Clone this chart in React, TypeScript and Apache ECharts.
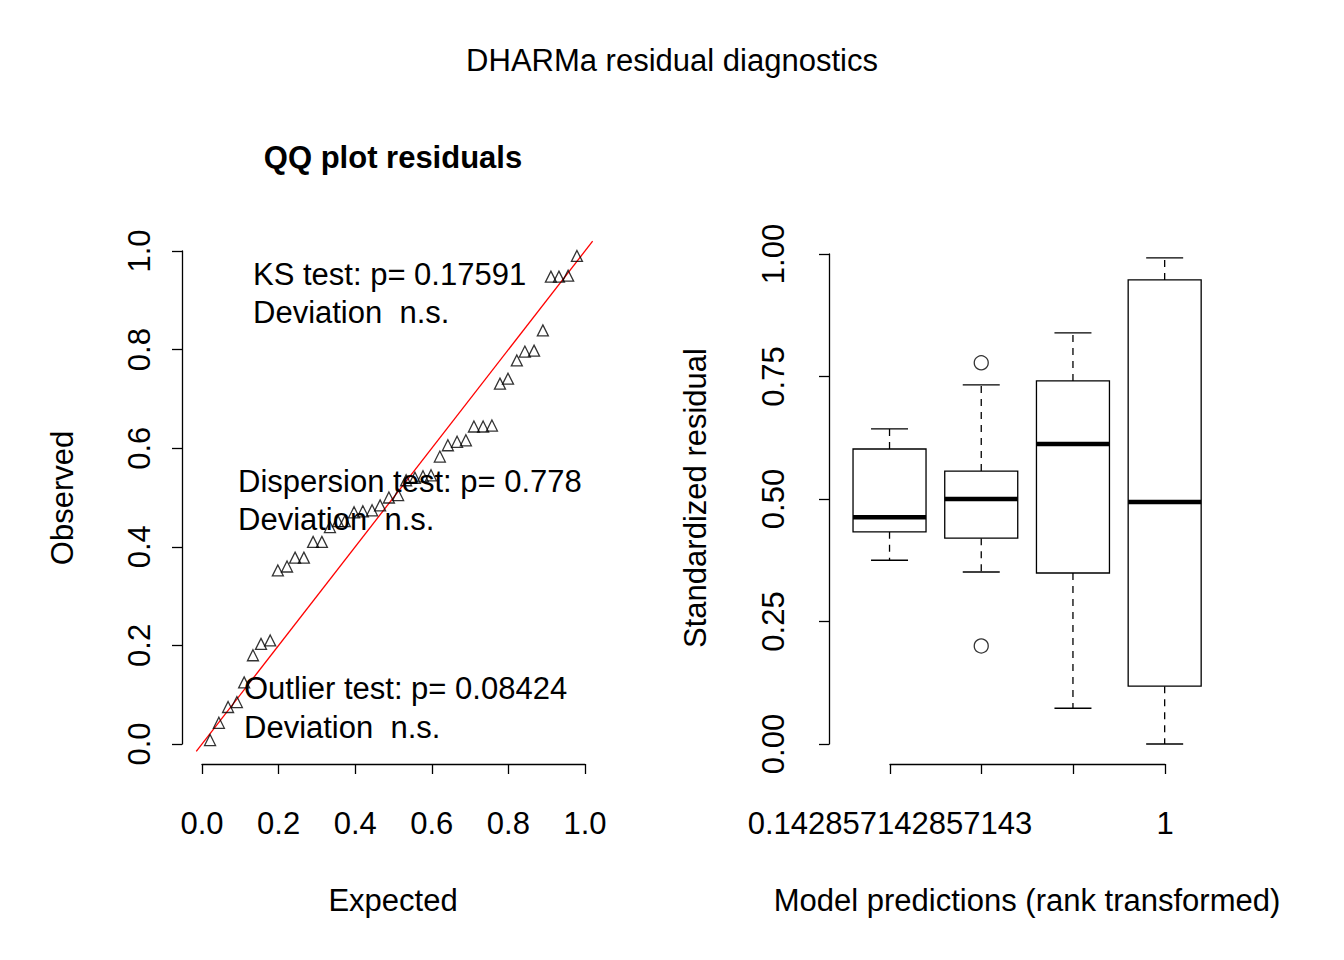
import React, { useEffect, useRef } from "react";
import * as echarts from "echarts";

const qqExpected = [0.021, 0.044, 0.068, 0.091, 0.11, 0.133, 0.154, 0.178, 0.198, 0.222, 0.243, 0.266, 0.29, 0.313, 0.334, 0.355, 0.373, 0.397, 0.42, 0.444, 0.465, 0.488, 0.512, 0.533, 0.556, 0.577, 0.598, 0.621, 0.642, 0.666, 0.689, 0.71, 0.734, 0.757, 0.778, 0.799, 0.822, 0.843, 0.867, 0.89, 0.911, 0.932, 0.956, 0.979];
const qqObserved = [0.008, 0.043, 0.075, 0.085, 0.125, 0.18, 0.203, 0.21, 0.352, 0.36, 0.378, 0.378, 0.41, 0.41, 0.44, 0.452, 0.452, 0.47, 0.472, 0.474, 0.484, 0.5, 0.505, 0.535, 0.54, 0.543, 0.545, 0.583, 0.606, 0.613, 0.616, 0.644, 0.644, 0.646, 0.731, 0.741, 0.778, 0.796, 0.798, 0.839, 0.948, 0.948, 0.95, 0.99];

const boxPositions = [1, 2, 3, 4];
const boxStats = [
  [0.375, 0.433, 0.463, 0.602, 0.643],
  [0.351, 0.42, 0.5, 0.557, 0.733],
  [0.073, 0.349, 0.612, 0.741, 0.839],
  [0.0, 0.118, 0.494, 0.947, 0.992],
];
const outliers = [[2, 0.778], [2, 0.2]];
const boxTickLabels = ["0.142857142857143", "", "", "1"];
const qqTicks = ["0.0", "0.2", "0.4", "0.6", "0.8", "1.0"];

const FONT = "Liberation Sans, Arial, sans-serif";
const FS = 31;

export default function App() {
  const ref = useRef<HTMLDivElement>(null);
  useEffect(() => {
    const chart = echarts.init(ref.current!, null, { renderer: "svg" });
    const lbl = { fontFamily: FONT, fontSize: FS, color: "#000" };
    const hiddenAxis = (gi: number, min: number, max: number) => ({
      gridIndex: gi, type: "value", min, max, show: false,
    });
    const axLine = { lineStyle: { color: "#000", width: 1.3 } };
    const tick = { show: true, length: 10, lineStyle: { color: "#000", width: 1.3 } };
    const option: any = {
      animation: false,
      backgroundColor: "#fff",
      grid: [
        { left: 186.7, top: 231.3, width: 413.6, height: 532.4 },
        { left: 202, top: 763, width: 383, height: 1 },
        { left: 182, top: 251, width: 1, height: 493 },
        { left: 829, top: 234.4, width: 396.2, height: 529.2 },
        { left: 890, top: 763, width: 275, height: 1 },
        { left: 829, top: 254, width: 1, height: 490 },
      ],
      xAxis: [
        hiddenAxis(0, -0.04, 1.04),
        {
          gridIndex: 1, type: "value", min: 0, max: 1, interval: 0.2, position: "bottom",
          axisLine: axLine, axisTick: tick, splitLine: { show: false },
          axisLabel: { ...lbl, margin: 44, formatter: (v: number) => qqTicks[Math.round(v * 5)] },
        },
        hiddenAxis(2, 0, 1),
        hiddenAxis(3, 0.34, 4.66),
        {
          gridIndex: 4, type: "value", min: 1, max: 4, interval: 1, position: "bottom",
          axisLine: axLine, axisTick: tick, splitLine: { show: false },
          axisLabel: { ...lbl, margin: 44, formatter: (v: number) => boxTickLabels[Math.round(v) - 1] },
        },
        hiddenAxis(5, 0, 1),
      ],
      yAxis: [
        hiddenAxis(0, -0.04, 1.04),
        hiddenAxis(1, 0, 1),
        {
          gridIndex: 2, type: "value", min: 0, max: 1, interval: 0.2,
          axisLine: { show: true, ...axLine }, axisTick: tick, splitLine: { show: false },
          axisLabel: { ...lbl, rotate: 90, margin: 27, formatter: (v: number) => qqTicks[Math.round(v * 5)] },
        },
        hiddenAxis(3, -0.04, 1.04),
        hiddenAxis(4, 0, 1),
        {
          gridIndex: 5, type: "value", min: 0, max: 1, interval: 0.25,
          axisLine: { show: true, ...axLine }, axisTick: tick, splitLine: { show: false },
          axisLabel: { ...lbl, rotate: 90, margin: 40, formatter: (v: number) => v.toFixed(2) },
        },
      ],
      series: [
        {
          type: "line", xAxisIndex: 0, yAxisIndex: 0, clip: false, symbol: "none",
          data: [[-0.015, -0.015], [1.02, 1.02]],
          lineStyle: { color: "#ff0000", width: 1.3 }, z: 3,
        },
        {
          type: "scatter", xAxisIndex: 0, yAxisIndex: 0, symbol: "triangle", symbolSize: 11,
          data: qqExpected.map((x, i) => [x, qqObserved[i]]),
          itemStyle: { color: "rgba(0,0,0,0)", borderColor: "#000", borderWidth: 1.3 }, z: 4,
        },
        {
          type: "custom", xAxisIndex: 3, yAxisIndex: 3,
          data: boxPositions.map((p, i) => [p, ...boxStats[i]]),
          renderItem: (params: any, api: any) => {
            const x = api.value(0);
            const pt = (v: number) => api.coord([x, v]);
            const [cx, yLow] = pt(api.value(1));
            const yQ1 = pt(api.value(2))[1];
            const yMed = pt(api.value(3))[1];
            const yQ3 = pt(api.value(4))[1];
            const yHigh = pt(api.value(5))[1];
            const hw = 36.5, cw = 18.5;
            const ls = { stroke: "#000", lineWidth: 1.3, fill: "none" };
            const dash = { ...ls, lineDash: [7, 6] };
            return {
              type: "group",
              children: [
                { type: "line", shape: { x1: cx, y1: yQ3, x2: cx, y2: yHigh }, style: dash },
                { type: "line", shape: { x1: cx, y1: yQ1, x2: cx, y2: yLow }, style: dash },
                { type: "line", shape: { x1: cx - cw, y1: yHigh, x2: cx + cw, y2: yHigh }, style: ls },
                { type: "line", shape: { x1: cx - cw, y1: yLow, x2: cx + cw, y2: yLow }, style: ls },
                { type: "rect", shape: { x: cx - hw, y: yQ3, width: 2 * hw, height: yQ1 - yQ3 }, style: { ...ls, fill: "#fff" } },
                { type: "line", shape: { x1: cx - hw, y1: yMed, x2: cx + hw, y2: yMed }, style: { stroke: "#000", lineWidth: 4.5 } },
              ],
            };
          },
        },
        {
          type: "scatter", xAxisIndex: 3, yAxisIndex: 3, symbol: "circle", symbolSize: 14,
          data: outliers,
          itemStyle: { color: "rgba(0,0,0,0)", borderColor: "#000", borderWidth: 1.3 },
        },
      ],
      graphic: [
        { type: "text", x: 672, y: 60, style: { text: "DHARMa residual diagnostics", font: `${FS}px ${FONT}`, fill: "#000", align: "center", verticalAlign: "middle" } },
        { type: "text", x: 393, y: 157, style: { text: "QQ plot residuals", font: `bold ${FS}px ${FONT}`, fill: "#000", align: "center", verticalAlign: "middle" } },
        { type: "text", x: 393, y: 900, style: { text: "Expected", font: `${FS}px ${FONT}`, fill: "#000", align: "center", verticalAlign: "middle" } },
        { type: "text", x: 1027, y: 900, style: { text: "Model predictions (rank transformed)", font: `${FS}px ${FONT}`, fill: "#000", align: "center", verticalAlign: "middle" } },
        { type: "text", x: 62, y: 498, rotation: Math.PI / 2, style: { text: "Observed", font: `${FS}px ${FONT}`, fill: "#000", align: "center", verticalAlign: "middle" } },
        { type: "text", x: 695, y: 498, rotation: Math.PI / 2, style: { text: "Standardized residual", font: `${FS}px ${FONT}`, fill: "#000", align: "center", verticalAlign: "middle" } },
        { type: "text", x: 253, y: 274, z: 10, style: { text: "KS test: p= 0.17591", font: `${FS}px ${FONT}`, fill: "#000", verticalAlign: "middle" } },
        { type: "text", x: 253, y: 312, z: 10, style: { text: "Deviation  n.s.", font: `${FS}px ${FONT}`, fill: "#000", verticalAlign: "middle" } },
        { type: "text", x: 238, y: 481, z: 10, style: { text: "Dispersion test: p= 0.778", font: `${FS}px ${FONT}`, fill: "#000", verticalAlign: "middle" } },
        { type: "text", x: 238, y: 519, z: 10, style: { text: "Deviation  n.s.", font: `${FS}px ${FONT}`, fill: "#000", verticalAlign: "middle" } },
        { type: "text", x: 244, y: 688, z: 10, style: { text: "Outlier test: p= 0.08424", font: `${FS}px ${FONT}`, fill: "#000", verticalAlign: "middle" } },
        { type: "text", x: 244, y: 727, z: 10, style: { text: "Deviation  n.s.", font: `${FS}px ${FONT}`, fill: "#000", verticalAlign: "middle" } },
      ],
    };
    chart.setOption(option);
    return () => chart.dispose();
  }, []);
  return <div ref={ref} style={{ position: "fixed", left: 0, top: 0, width: 1344, height: 960 }} />;
}
